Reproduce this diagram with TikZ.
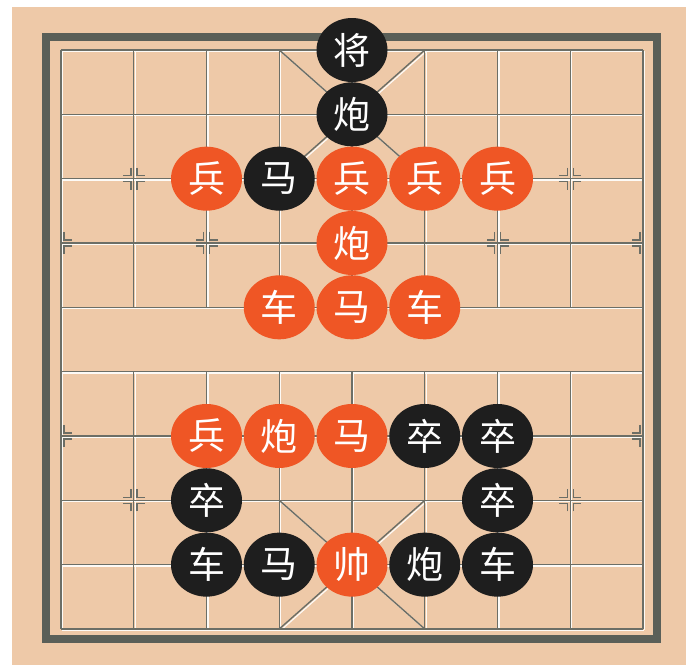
\documentclass[tikz,border=0pt]{standalone}
\usepackage{fontspec}
\newfontfamily\cjk{Noto Sans CJK SC}
\usetikzlibrary{shapes.geometric}
\definecolor{boardbg}{HTML}{EEC9A8}
\definecolor{framec}{HTML}{5A5F58}
\definecolor{gridc}{HTML}{6C6E66}
\definecolor{redp}{HTML}{EF5625}
\definecolor{blackp}{HTML}{1E1E1E}
\tikzset{
  gridline/.style={draw=gridc, line width=1.4pt},
  hiline/.style={draw=white!90!boardbg, line width=1.2pt},
  markline/.style={draw=gridc, line width=1.5pt},
  piece/.style={ellipse, minimum width=71pt, minimum height=64pt, inner sep=0pt,
    text=white, font=\cjk\fontsize{37}{37}\selectfont},
  redpiece/.style={piece, fill=redp},
  blackpiece/.style={piece, fill=blackp},
}
\newcommand\GX[1]{61+#1*72.75}
\newcommand\GY[1]{50+#1*64.33}
\begin{document}
\begin{tikzpicture}[x=1pt,y=-1pt]
\useasboundingbox (0,0) rectangle (686,665);
\fill[white] (0,0) rectangle (686,665);
\fill[boardbg] (12,7) rectangle (686,665);
\draw[framec, line width=8pt] (46,37) rectangle (657,639);
% grid: highlight then gray
\foreach \sh/\st in {1.4/hiline, 0/gridline}{
  \begin{scope}[shift={(\sh,\sh)}]
  \foreach \r in {0,...,9}{
    \draw[\st] ({\GX{0}},{\GY{\r}}) -- ({\GX{8}},{\GY{\r}});
  }
  \foreach \c in {0,8}{
    \draw[\st] ({\GX{\c}},{\GY{0}}) -- ({\GX{\c}},{\GY{9}});
  }
  \foreach \c in {1,...,7}{
    \draw[\st] ({\GX{\c}},{\GY{0}}) -- ({\GX{\c}},{\GY{4}});
    \draw[\st] ({\GX{\c}},{\GY{5}}) -- ({\GX{\c}},{\GY{9}});
  }
  \draw[\st] ({\GX{3}},{\GY{0}}) -- ({\GX{5}},{\GY{2}});
  \draw[\st] ({\GX{5}},{\GY{0}}) -- ({\GX{3}},{\GY{2}});
  \draw[\st] ({\GX{3}},{\GY{7}}) -- ({\GX{5}},{\GY{9}});
  \draw[\st] ({\GX{5}},{\GY{7}}) -- ({\GX{3}},{\GY{9}});
  \end{scope}
}
% position markers
\foreach \c/\r/\sides in {1/2/{-1,1}, 7/2/{-1,1}, 1/7/{-1,1}, 7/7/{-1,1},
  0/3/{1}, 2/3/{-1,1}, 6/3/{-1,1}, 8/3/{-1},
  0/6/{1}, 8/6/{-1}}{
  \foreach \sx in \sides{
    \foreach \sy in {-1,1}{
      \draw[markline] ({\GX{\c}+\sx*3},{\GY{\r}+\sy*11}) -- ({\GX{\c}+\sx*3},{\GY{\r}+\sy*3}) -- ({\GX{\c}+\sx*11},{\GY{\r}+\sy*3});
    }
  }
}
% pieces
\node[blackpiece] (bk)  at ({\GX{4}},{\GY{0}}) {将};
\node[blackpiece] (bc1) at ({\GX{4}},{\GY{1}}) {炮};
\node[redpiece]   (rp1) at ({\GX{2}},{\GY{2}}) {兵};
\node[blackpiece] (bh1) at ({\GX{3}},{\GY{2}}) {马};
\node[redpiece]   (rp2) at ({\GX{4}},{\GY{2}}) {兵};
\node[redpiece]   (rp3) at ({\GX{5}},{\GY{2}}) {兵};
\node[redpiece]   (rp4) at ({\GX{6}},{\GY{2}}) {兵};
\node[redpiece]   (rc1) at ({\GX{4}},{\GY{3}}) {炮};
\node[redpiece]   (rr1) at ({\GX{3}},{\GY{4}}) {车};
\node[redpiece]   (rh1) at ({\GX{4}},{\GY{4}}) {马};
\node[redpiece]   (rr2) at ({\GX{5}},{\GY{4}}) {车};
\node[redpiece]   (rp5) at ({\GX{2}},{\GY{6}}) {兵};
\node[redpiece]   (rc2) at ({\GX{3}},{\GY{6}}) {炮};
\node[redpiece]   (rh2) at ({\GX{4}},{\GY{6}}) {马};
\node[blackpiece] (bp1) at ({\GX{5}},{\GY{6}}) {卒};
\node[blackpiece] (bp2) at ({\GX{6}},{\GY{6}}) {卒};
\node[blackpiece] (bp3) at ({\GX{2}},{\GY{7}}) {卒};
\node[blackpiece] (bp4) at ({\GX{6}},{\GY{7}}) {卒};
\node[blackpiece] (br1) at ({\GX{2}},{\GY{8}}) {车};
\node[blackpiece] (bh2) at ({\GX{3}},{\GY{8}}) {马};
\node[redpiece]   (rk)  at ({\GX{4}},{\GY{8}}) {帅};
\node[blackpiece] (bc2) at ({\GX{5}},{\GY{8}}) {炮};
\node[blackpiece] (br2) at ({\GX{6}},{\GY{8}}) {车};
\end{tikzpicture}
\end{document}
